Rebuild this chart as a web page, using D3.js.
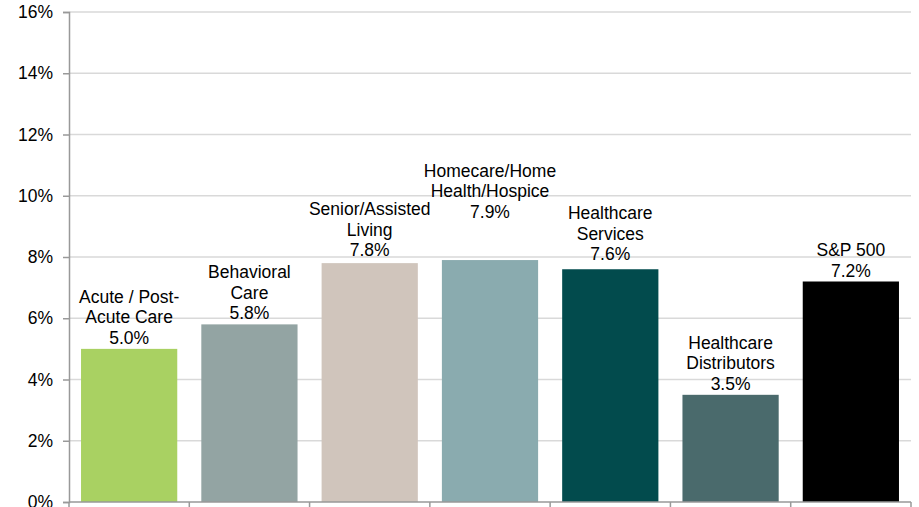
<!DOCTYPE html>
<html><head><meta charset="utf-8">
<script src="https://cdn.jsdelivr.net/npm/d3@7"></script>
<style>
html,body{margin:0;padding:0;background:#fff;overflow:hidden;}
svg{display:block;font-family:"Liberation Sans",Arial,sans-serif;}
</style></head>
<body>
<svg id="chart" width="919" height="507"></svg>
<script>
const categories = ["Acute / Post-Acute Care","Behavioral Care","Senior/Assisted Living","Homecare/Home Health/Hospice","Healthcare Services","Healthcare Distributors","S&P 500"];
const labelLines = [["Acute / Post-","Acute Care"],["Behavioral","Care"],["Senior/Assisted","Living"],["Homecare/Home","Health/Hospice"],["Healthcare","Services"],["Healthcare","Distributors"],["S&P 500"]];
const values = [5.0, 5.8, 7.8, 7.9, 7.6, 3.5, 7.2];
const colors = ["#a9d162","#93a4a3","#d0c5bc","#8aabaf","#024b4d","#4a6a6c","#000000"];
const yTicks = [0,2,4,6,8,10,12,14,16];

(function(){
const svg = d3.select("#chart");
const mLeft = 69, mRight = 911, mTop = 12, mBottom = 502;
const x = d3.scaleBand().domain(categories).range([mLeft,mRight]).paddingInner(0.2).paddingOuter(0.1);
const y = d3.scaleLinear().domain([0,16]).range([mBottom,mTop]);

// gridlines
svg.append("g").selectAll("line").data(yTicks.filter(d=>d>0)).join("line")
  .attr("x1",mLeft).attr("x2",mRight).attr("y1",d=>y(d)).attr("y2",d=>y(d))
  .attr("stroke","#d9d9d9").attr("stroke-width",1.5);

// bars
svg.append("g").selectAll("rect").data(values).join("rect")
  .attr("x",(d,i)=>x(categories[i])).attr("width",x.bandwidth())
  .attr("y",d=>y(d)).attr("height",d=>mBottom-y(d))
  .attr("fill",(d,i)=>colors[i]);

// y axis
const yAxis = d3.axisLeft(y).tickValues(yTicks).tickFormat(d=>d+"%").tickSize(6).tickPadding(10);
const gy = svg.append("g").attr("transform",`translate(${mLeft},0)`).call(yAxis);
gy.select(".domain").attr("stroke","#999").attr("stroke-width",1.5);
gy.selectAll(".tick line").attr("stroke","#999").attr("stroke-width",1.5);
gy.selectAll(".tick text").attr("font-size","17.5px").attr("fill","#000").attr("font-family","Liberation Sans, Arial, sans-serif");

// x axis line with boundary ticks
const bounds = categories.map(c=>x(c)-x.step()*x.paddingInner()/2).concat([mRight]);
svg.append("line").attr("x1",mLeft).attr("x2",mRight).attr("y1",mBottom).attr("y2",mBottom)
  .attr("stroke","#999").attr("stroke-width",1.5);
svg.append("g").selectAll("line").data(bounds).join("line")
  .attr("x1",d=>d).attr("x2",d=>d).attr("y1",mBottom).attr("y2",mBottom+6)
  .attr("stroke","#999").attr("stroke-width",1.5);

// labels
const lineH = 20.6;
const extraLift = {3:37, 4:4, 2:2};
const lab = svg.append("g").attr("font-size","17.5px").attr("fill","#000").attr("text-anchor","middle");
values.forEach((v,i)=>{
  const lines = labelLines[i].concat([v.toFixed(1)+"%"]);
  const cx = x(categories[i]) + x.bandwidth()/2;
  const lastBase = y(v) - 5 - (extraLift[i]||0);
  const t = lab.append("text").attr("x",cx);
  lines.forEach((s,j)=>{
    t.append("tspan").attr("x",cx).attr("y",lastBase-(lines.length-1-j)*lineH).text(s);
  });
});
})();
</script>
</body></html>
